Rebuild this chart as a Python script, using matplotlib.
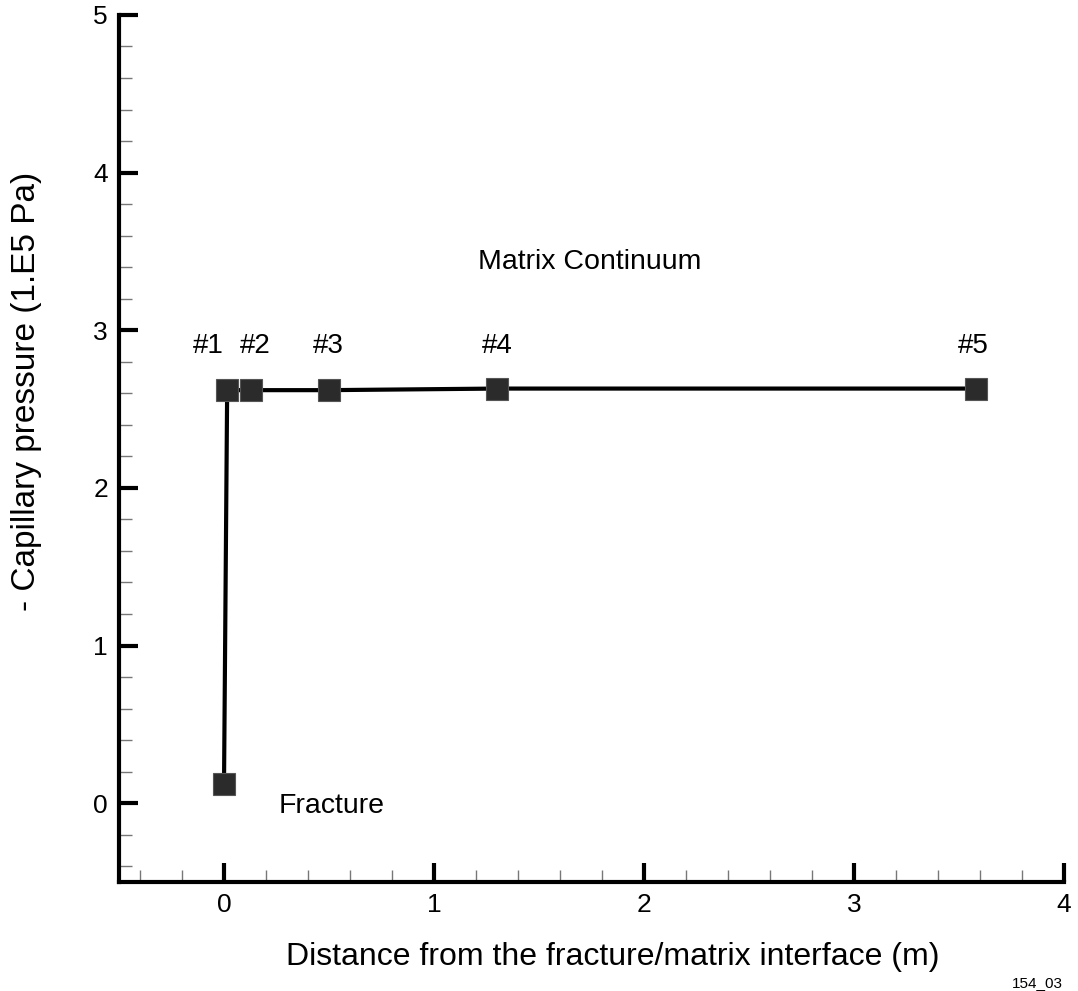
import matplotlib.pyplot as plt
from matplotlib.ticker import MultipleLocator

plt.rcParams['font.family'] = ['Liberation Sans', 'DejaVu Sans']

# points along the profile: fracture node, then matrix nodes #1..#5
dist = [0.0, 0.015, 0.13, 0.50, 1.30, 3.58]
pc = [0.12, 2.62, 2.62, 2.62, 2.63, 2.63]

node_labels = ["#1", "#2", "#3", "#4", "#5"]
label_x = [-0.075, 0.15, 0.495, 1.30, 3.57]
label_y = 2.90

fig = plt.figure(figsize=(10.78, 9.91), dpi=100)
ax = fig.add_axes([0.1104, 0.110, 0.8766, 0.8749])

ax.plot(dist, pc, color="black", lw=3, marker="s", ms=16,
        markerfacecolor="#2b2b2b", markeredgecolor="#555555", markeredgewidth=0.8,
        zorder=3)

for lab, lx in zip(node_labels, label_x):
    ax.text(lx, label_y, lab, fontsize=20, ha="center", va="center")

ax.text(1.74, 3.43, "Matrix Continuum", fontsize=20.5, ha="center", va="center")
ax.text(0.26, -0.02, "Fracture", fontsize=20.5, ha="left", va="center")

ax.set_xlim(-0.5, 4)
ax.set_ylim(-0.5, 5)
ax.xaxis.set_major_locator(MultipleLocator(1))
ax.xaxis.set_minor_locator(MultipleLocator(0.2))
ax.yaxis.set_major_locator(MultipleLocator(1))
ax.yaxis.set_minor_locator(MultipleLocator(0.2))

for s in ["top", "right"]:
    ax.spines[s].set_visible(False)
for s in ["left", "bottom"]:
    ax.spines[s].set_linewidth(3)

ax.tick_params(which="major", direction="in", length=14, width=3, labelsize=19, pad=8)
ax.tick_params(which="minor", direction="in", length=9, width=1, color="#777777")

ax.set_xlabel("Distance from the fracture/matrix interface (m)", fontsize=23)
ax.xaxis.set_label_coords(0.523, -0.0865)
ax.xaxis.label.set_va("center")
ax.set_ylabel("- Capillary pressure (1.E5 Pa)", fontsize=24)
ax.yaxis.set_label_coords(-0.098, 0.566)
ax.yaxis.label.set_va("center")

fig.text(0.939, 0.001, "154_03", fontsize=11, va="bottom")

fig.savefig("out.png", dpi=100)
